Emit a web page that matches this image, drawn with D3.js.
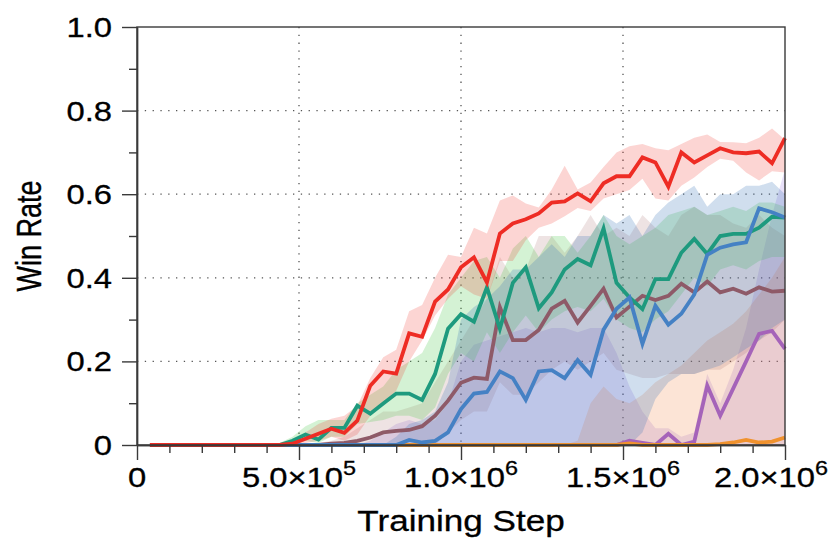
<!DOCTYPE html>
<html>
<head>
<meta charset="utf-8">
<script src="https://cdn.jsdelivr.net/npm/d3@7/dist/d3.min.js"></script>
<style>
  body { margin: 0; background: #fff; }
  svg { font-family: "Liberation Sans", Arial, Helvetica, sans-serif; }
  .lbl { fill: #000; stroke: #000; stroke-width: 0.3; }
</style>
</head>
<body>
<div id="chart"></div>
<script>
// Pasos de entrenamiento
const steps = [40000, 80000, 120000, 160000, 200000, 240000, 280000, 320000, 360000, 400000,
  440000, 480000, 520000, 560000, 600000, 640000, 680000, 720000, 760000, 800000,
  840000, 880000, 920000, 960000, 1000000, 1040000, 1080000, 1120000, 1160000, 1200000,
  1240000, 1280000, 1320000, 1360000, 1400000, 1440000, 1480000, 1520000, 1560000, 1600000,
  1640000, 1680000, 1720000, 1760000, 1800000, 1840000, 1880000, 1920000, 1960000, 2000000];

// Rojo
const redMean = [0, 0, 0, 0, 0, 0, 0, 0, 0, 0,
  0, 0.003, 0.015, 0.027, 0.039, 0.029, 0.058, 0.142, 0.176, 0.171,
  0.267, 0.259, 0.343, 0.372, 0.425, 0.449, 0.389, 0.506, 0.530, 0.540,
  0.554, 0.580, 0.583, 0.602, 0.583, 0.626, 0.643, 0.643, 0.688, 0.676,
  0.618, 0.700, 0.676, 0.693, 0.710, 0.700, 0.698, 0.702, 0.674, 0.734];
const redLow = [0, 0, 0, 0, 0, 0, 0, 0, 0, 0,
  0, 0, 0.005, 0.01, 0.02, 0.01, 0.025, 0.07, 0.10, 0.13,
  0.20, 0.25, 0.31, 0.35, 0.38, 0.36, 0.35, 0.44, 0.44, 0.49,
  0.52, 0.53, 0.547, 0.567, 0.56, 0.59, 0.60, 0.61, 0.637, 0.59,
  0.585, 0.62, 0.64, 0.665, 0.685, 0.68, 0.652, 0.633, 0.655, 0.652];
const redHigh = [0, 0, 0, 0, 0, 0, 0, 0, 0, 0,
  0.002, 0.01, 0.03, 0.05, 0.063, 0.07, 0.094, 0.16, 0.21, 0.228,
  0.32, 0.335, 0.40, 0.455, 0.45, 0.52, 0.506, 0.585, 0.597, 0.578,
  0.568, 0.611, 0.668, 0.611, 0.628, 0.665, 0.70, 0.715, 0.72, 0.71,
  0.705, 0.72, 0.735, 0.743, 0.725, 0.724, 0.722, 0.735, 0.757, 0.73];

// Verde azulado
const tealMean = [0, 0, 0, 0, 0, 0, 0, 0, 0, 0,
  0, 0.01, 0.025, 0.013, 0.041, 0.041, 0.094, 0.075, 0.099, 0.123,
  0.123, 0.108, 0.17, 0.278, 0.313, 0.295, 0.377, 0.278, 0.388, 0.425,
  0.327, 0.365, 0.42, 0.445, 0.43, 0.518, 0.388, 0.353, 0.325, 0.397,
  0.397, 0.46, 0.493, 0.457, 0.5, 0.505, 0.505, 0.52, 0.546, 0.544];
const tealLow = [0, 0, 0, 0, 0, 0, 0, 0, 0, 0,
  0, 0, 0.01, 0.005, 0.02, 0.02, 0.05, 0.055, 0.06, 0.07,
  0.07, 0.06, 0.09, 0.17, 0.22, 0.20, 0.27, 0.22, 0.27, 0.31,
  0.27, 0.30, 0.32, 0.33, 0.32, 0.35, 0.30, 0.28, 0.27, 0.30,
  0.32, 0.36, 0.40, 0.38, 0.42, 0.43, 0.42, 0.44, 0.45, 0.45];
const tealHigh = [0, 0, 0, 0, 0, 0, 0, 0, 0, 0,
  0.005, 0.02, 0.045, 0.06, 0.06, 0.06, 0.10, 0.12, 0.14, 0.18,
  0.20, 0.22, 0.28, 0.36, 0.40, 0.44, 0.45, 0.40, 0.47, 0.50,
  0.45, 0.50, 0.50, 0.46, 0.50, 0.55, 0.50, 0.48, 0.50, 0.52,
  0.55, 0.56, 0.57, 0.55, 0.56, 0.57, 0.56, 0.58, 0.58, 0.57];

// Marrón
const brownMean = [0, 0, 0, 0, 0, 0, 0, 0, 0, 0,
  0, 0, 0, 0, 0.003, 0.005, 0.01, 0.018, 0.03, 0.034,
  0.036, 0.045, 0.07, 0.106, 0.149, 0.161, 0.158, 0.33, 0.251, 0.251,
  0.275, 0.326, 0.345, 0.293, 0.333, 0.374, 0.305, 0.331, 0.357, 0.347,
  0.357, 0.386, 0.365, 0.391, 0.365, 0.374, 0.362, 0.377, 0.367, 0.369];
const brownLow = [0, 0, 0, 0, 0, 0, 0, 0, 0, 0,
  0, 0, 0, 0, 0, 0, 0, 0, 0, 0,
  0, 0, 0, 0.03, 0.06, 0.08, 0.08, 0.15, 0.12, 0.12,
  0.15, 0.18, 0.20, 0.18, 0.20, 0.22, 0.18, 0.17, 0.16, 0.16,
  0.17, 0.17, 0.17, 0.18, 0.18, 0.20, 0.22, 0.25, 0.27, 0.30];
const brownHigh = [0, 0, 0, 0, 0, 0, 0, 0, 0, 0,
  0, 0, 0, 0.005, 0.01, 0.02, 0.04, 0.06, 0.08, 0.08,
  0.09, 0.10, 0.15, 0.20, 0.25, 0.30, 0.35, 0.45, 0.40, 0.42,
  0.50, 0.50, 0.46, 0.50, 0.55, 0.50, 0.52, 0.50, 0.55, 0.52,
  0.50, 0.55, 0.57, 0.55, 0.55, 0.53, 0.52, 0.55, 0.52, 0.50];

// Azul
const blueMean = [0, 0, 0, 0, 0, 0, 0, 0, 0, 0,
  0, 0, 0, 0, 0, 0, 0, 0, 0, 0,
  0.012, 0.006, 0.01, 0.03, 0.086, 0.123, 0.127, 0.176, 0.16, 0.108,
  0.176, 0.179, 0.16, 0.203, 0.168, 0.276, 0.326, 0.353, 0.242, 0.333,
  0.288, 0.314, 0.36, 0.455, 0.472, 0.48, 0.485, 0.566, 0.557, 0.544];
const blueLow = [0, 0, 0, 0, 0, 0, 0, 0, 0, 0,
  0, 0, 0, 0, 0, 0, 0, 0, 0, 0,
  0, 0, 0, 0, 0, 0, 0, 0, 0, 0,
  0, 0, 0, 0, 0, 0, 0, 0, 0.03, 0.11,
  0.15, 0.17, 0.17, 0.18, 0.19, 0.21, 0.23, 0.25, 0.28, 0.30];
const blueHigh = [0, 0, 0, 0, 0, 0, 0, 0, 0, 0,
  0, 0, 0, 0, 0, 0, 0, 0, 0, 0.02,
  0.05, 0.06, 0.08, 0.15, 0.30, 0.33, 0.35, 0.38, 0.42, 0.42,
  0.45, 0.48, 0.45, 0.50, 0.50, 0.55, 0.53, 0.55, 0.50, 0.55,
  0.58, 0.60, 0.62, 0.57, 0.60, 0.60, 0.62, 0.62, 0.63, 0.60];

// Morado
const purpleMean = [0, 0, 0, 0, 0, 0, 0, 0, 0, 0,
  0, 0, 0, 0, 0, 0, 0, 0, 0, 0,
  0, 0, 0, 0, 0, 0, 0, 0, 0, 0,
  0, 0, 0, 0, 0, 0, 0, 0.01, 0.005, 0,
  0.027, 0, 0.008, 0.142, 0.07, 0.135, 0.2, 0.266, 0.273, 0.23];
const purpleHigh = [0, 0, 0, 0, 0, 0, 0, 0, 0, 0,
  0, 0, 0, 0, 0, 0, 0, 0.01, 0.03, 0.05,
  0.06, 0.05, 0.06, 0.10, 0.20, 0.24, 0.25, 0.26, 0.27, 0.28,
  0.27, 0.28, 0.28, 0.27, 0.28, 0.28, 0.22, 0.14, 0.08, 0.04,
  0.04, 0.02, 0.03, 0.17, 0.10, 0.18, 0.28, 0.42, 0.55, 0.66];

// Naranja
const orangeMean = [0, 0, 0, 0, 0, 0, 0, 0, 0, 0,
  0, 0, 0, 0, 0, 0, 0, 0, 0, 0,
  0, 0, 0, 0, 0, 0, 0, 0, 0, 0,
  0, 0, 0, 0, 0, 0, 0, 0.004, 0, 0,
  0, 0, 0, 0, 0.002, 0.006, 0.012, 0.006, 0.008, 0.018];
const orangeHigh = [0, 0, 0, 0, 0, 0, 0, 0, 0, 0,
  0, 0, 0, 0, 0, 0, 0, 0, 0, 0,
  0, 0, 0, 0, 0, 0, 0, 0, 0, 0,
  0, 0, 0, 0.01, 0.10, 0.14, 0.11, 0.10, 0.12, 0.15,
  0.17, 0.19, 0.22, 0.25, 0.27, 0.29, 0.32, 0.36, 0.40, 0.45];

const zeros = steps.map(function() { return 0; });

const yTicks = [0, 0.2, 0.4, 0.6, 0.8, 1.0];
const yTickLabels = ['0', '0.2', '0.4', '0.6', '0.8', '1.0'];
const yMinor = [0.1, 0.3, 0.5, 0.7, 0.9];
const xTicks = [0, 500000, 1000000, 1500000, 2000000];
const xTickLabels = [['0', ''], ['5.0×10', '5'], ['1.0×10', '6'], ['1.5×10', '6'], ['2.0×10', '6']];
const xMinor = [100000, 200000, 300000, 400000, 600000, 700000, 800000, 900000,
  1100000, 1200000, 1300000, 1400000, 1600000, 1700000, 1800000, 1900000];

// Series (orden de dibujo)
const series = [
  { mean: purpleMean, low: zeros, high: purpleHigh, line: '#a563b9', band: 'rgba(140,100,220,0.20)' },
  { mean: orangeMean, low: zeros, high: orangeHigh, line: '#f0922e', band: 'rgba(240,130,70,0.22)' },
  { mean: brownMean, low: brownLow, high: brownHigh, line: '#8e5a68', band: 'rgba(150,80,80,0.16)' },
  { mean: tealMean, low: tealLow, high: tealHigh, line: '#1e9a7e', band: 'rgba(75,200,75,0.24)' },
  { mean: blueMean, low: blueLow, high: blueHigh, line: '#4581c4', band: 'rgba(60,115,185,0.24)' },
  { mean: redMean, low: redLow, high: redHigh, line: '#ee2c24', band: 'rgba(238,45,36,0.20)' }
];

const W = 830, H = 554;
const SX = 1.17; // estirado horizontal del texto
let margin = {top: 27, right: 45, bottom: 109, left: 137},
    width = W - margin.left - margin.right,
    height = H - margin.top - margin.bottom;

let svg = d3.select('#chart').append('svg')
    .attr('width', W)
    .attr('height', H)
  .append('g')
    .attr('transform', 'translate(' + margin.left + ',' + margin.top + ')');

let x = d3.scaleLinear().domain([0, 2000000]).range([0, width]);
let y = d3.scaleLinear().domain([0, 1]).range([height, 0]);

const AXIS = '#3a3a3a';

// Rejilla punteada
svg.append('g').selectAll('line')
  .data(xTicks.slice(1, -1))
  .enter().append('line')
    .attr('x1', function(d) { return x(d); })
    .attr('x2', function(d) { return x(d); })
    .attr('y1', 0).attr('y2', height)
    .attr('stroke', '#555').attr('stroke-width', 1.3)
    .attr('stroke-dasharray', '1.3,6.5');
svg.append('g').selectAll('line')
  .data(yTicks.slice(1, -1))
  .enter().append('line')
    .attr('y1', function(d) { return y(d); })
    .attr('y2', function(d) { return y(d); })
    .attr('x1', 0).attr('x2', width)
    .attr('stroke', '#555').attr('stroke-width', 1.3)
    .attr('stroke-dasharray', '1.3,6.5');

// Bandas
let area = d3.area()
  .x(function(d) { return x(d.s); })
  .y0(function(d) { return y(d.lo); })
  .y1(function(d) { return y(d.hi); });

series.forEach(function(s) {
  let pts = steps.map(function(st, i) { return { s: st, lo: s.low[i], hi: s.high[i] }; });
  svg.append('path').datum(pts)
    .attr('d', area)
    .attr('fill', s.band);
});

// Líneas
let line = d3.line()
  .x(function(d) { return x(d.s); })
  .y(function(d) { return y(d.v); });

series.forEach(function(s) {
  let pts = steps.map(function(st, i) { return { s: st, v: s.mean[i] }; });
  svg.append('path').datum(pts)
    .attr('d', line)
    .attr('fill', 'none')
    .attr('stroke', s.line)
    .attr('stroke-width', 3.8)
    .attr('stroke-linejoin', 'miter');
});

// Marco
svg.append('rect')
  .attr('x', 0).attr('y', 0)
  .attr('width', width).attr('height', height)
  .attr('fill', 'none')
  .attr('stroke', AXIS).attr('stroke-width', 1.4);

// Ticks Y
svg.append('g')
  .call(d3.axisLeft(y).tickValues(yTicks).tickSize(15).tickSizeOuter(0).tickFormat(''));
svg.append('g')
  .call(d3.axisLeft(y).tickValues(yMinor).tickSize(8).tickSizeOuter(0).tickFormat(''));

// Ticks X
svg.append('g')
  .attr('transform', 'translate(0,' + height + ')')
  .call(d3.axisBottom(x).tickValues(xTicks).tickSize(15).tickSizeOuter(0).tickFormat(''));
svg.append('g')
  .attr('transform', 'translate(0,' + height + ')')
  .call(d3.axisBottom(x).tickValues(xMinor).tickSize(8).tickSizeOuter(0).tickFormat(''));

svg.selectAll('.domain').attr('stroke', AXIS).attr('stroke-width', 1.4);
svg.selectAll('.tick line').attr('stroke', AXIS).attr('stroke-width', 1.4);

// Etiquetas Y
svg.append('g').selectAll('text')
  .data(yTicks)
  .enter().append('text')
    .attr('class', 'lbl')
    .attr('transform', function(d) { return 'translate(-25,' + (y(d) + 10) + ') scale(' + SX + ',1)'; })
    .attr('text-anchor', 'end')
    .attr('font-size', 28)
    .text(function(d, i) { return yTickLabels[i]; });

// Etiquetas X con superíndice
xTicks.forEach(function(d, i) {
  let g = svg.append('g')
    .attr('transform', 'translate(' + x(d) + ',' + (height + 42) + ')');
  let t = g.append('text')
    .attr('class', 'lbl')
    .attr('transform', 'scale(' + SX + ',1)')
    .attr('text-anchor', 'middle')
    .attr('font-size', 28);
  t.append('tspan').text(xTickLabels[i][0]);
  if (xTickLabels[i][1]) {
    t.append('tspan').text(xTickLabels[i][1])
      .attr('font-size', 20)
      .attr('dy', -12);
  }
  // Ajuste para no salirse del lienzo
  let tb = t.node().getBBox();
  let absRight = margin.left + x(d) + (tb.x + tb.width) * SX;
  if (absRight > W - 2) {
    g.attr('transform', 'translate(' + (x(d) - (absRight - W + 2)) + ',' + (height + 42) + ')');
  }
});

// Títulos
svg.append('text')
  .attr('class', 'lbl')
  .attr('transform', 'translate(' + (width / 2) + ',' + (height + 86) + ') scale(' + SX + ',1)')
  .attr('text-anchor', 'middle')
  .attr('font-size', 30)
  .text('Training Step');

svg.append('text')
  .attr('class', 'lbl')
  .attr('transform', 'translate(' + (-96) + ',' + (height / 2) + ') scale(1.3,1) rotate(-90)')
  .attr('text-anchor', 'middle')
  .attr('font-size', 27)
  .text('Win Rate');
</script>
</body>
</html>
